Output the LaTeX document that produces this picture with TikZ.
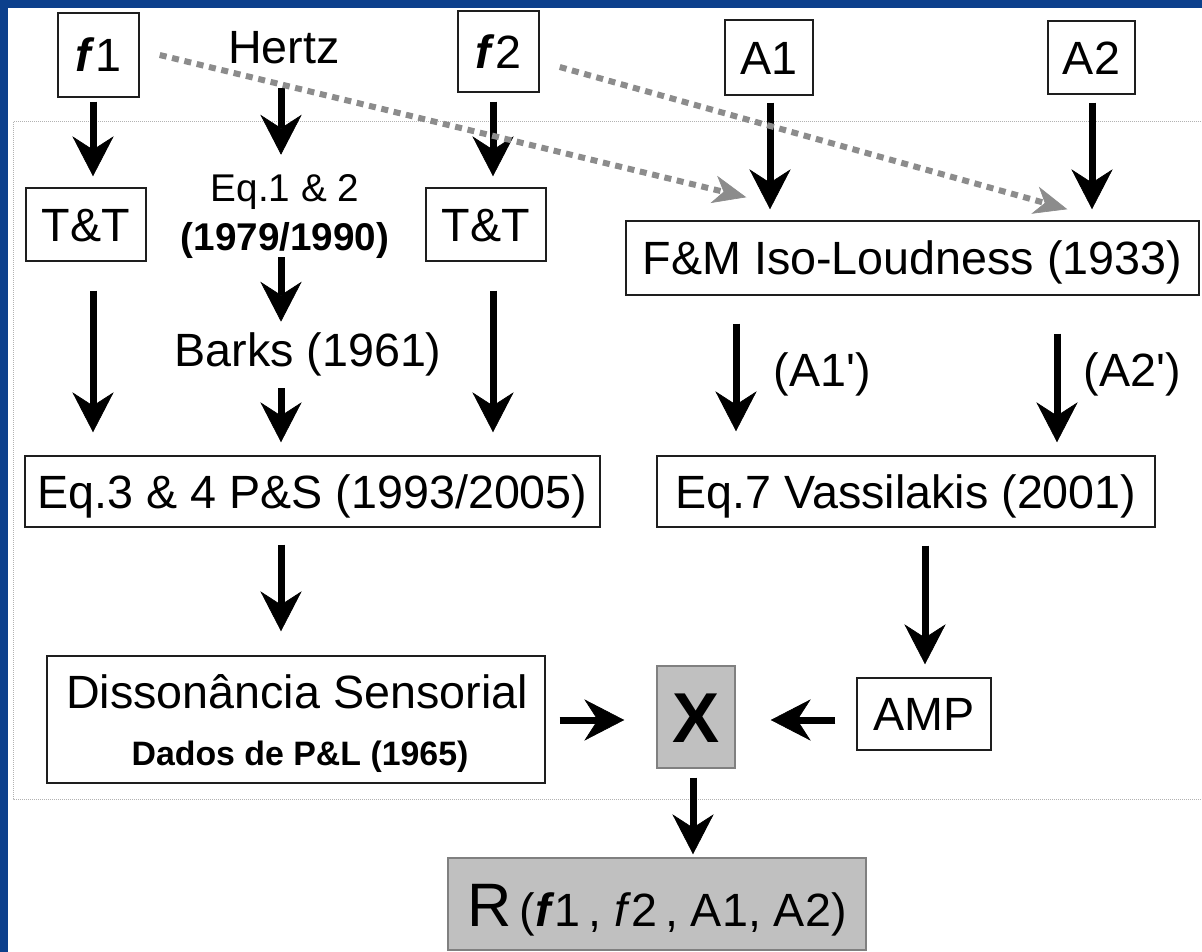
\documentclass[tikz,border=0pt]{standalone}
\usepackage{fontspec}
\setmainfont{Liberation Sans}
\usetikzlibrary{positioning, calc, arrows.meta}

\definecolor{slideblue}{RGB}{12,64,140}
\definecolor{boxline}{RGB}{30,30,30}
\definecolor{dashgray}{RGB}{140,140,140}
\definecolor{boxgray}{RGB}{192,192,192}

\tikzset{
  mainf/.style={font=\fontsize{35}{42}\selectfont, text height=30pt, text depth=5pt},
  box/.style={mainf, draw=boxline, line width=1.1pt, fill=white, inner sep=0pt},
  graybox/.style={draw=gray, line width=1.1pt, fill=boxgray, inner sep=0pt},
  txt/.style={mainf, inner sep=0pt},
  smalltxt/.style={font=\fontsize{29}{35}\selectfont, inner sep=0pt, text height=24.5pt, text depth=3.7pt},
  subtxt/.style={font=\fontsize{25.4}{30}\selectfont\bfseries, inner sep=0pt, text height=21.5pt, text depth=3.3pt},
  blk/.style={line width=5.25pt, -{Stealth[length=30pt, width=31pt, inset=10pt, line width=0.5pt]}},
  dsh/.style={draw=dashgray, line width=4.5pt, dash pattern=on 5.25pt off 4.25pt,
    -{Stealth[length=25pt, width=21pt, inset=7.5pt, line width=0.5pt]}},
  panel/.style={draw=gray!60, line width=0.75pt, dash pattern=on 0.75pt off 0.75pt}
}

\begin{document}
\begin{tikzpicture}[x=0.75pt,y=0.75pt,yscale=-1,xscale=1]
\useasboundingbox (0,0) rectangle (1202,952);

% slide background
\fill[slideblue] (0,0) rectangle (1202,952);
\fill[white] (8,8) rectangle (1202,952);
% dotted frame
\draw[panel] (13,122) rectangle (1210,799);

% top row
\node[box, minimum width=60.75pt, minimum height=63pt] (f1) at (98.5,55) {\textbf{\textit{f}}1};
\node[txt] (hertz) at (284,47) {Hertz};
\node[box, minimum width=60.75pt, minimum height=60.75pt] (f2) at (498.5,51.5) {\textbf{\textit{f}}2};
\node[box, minimum width=66pt, minimum height=56.25pt] (a1) at (769,57.5) {A1};
\node[box, minimum width=65.25pt, minimum height=54.75pt] (a2) at (1091.5,57.5) {A2};

% second row
\node[box, minimum width=90pt, minimum height=54.75pt] (tt1) at (86,224.5) {T\&T};
\node[smalltxt] (eq1) at (285,188) {Eq.1 \& 2};
\node[smalltxt] (eq1y) at (285,237) {\bfseries (1979/1990)};
\node[box, minimum width=90pt, minimum height=54.75pt] (tt2) at (486,224.5) {T\&T};
\node[box, minimum width=429.75pt, minimum height=55.5pt] (fm) at (912.5,258) {F\&M Iso-Loudness (1933)};

% third row
\node[txt] (barks) at (308,350) {Barks (1961)};
\node[txt] (a1p) at (822,370) {(A1\textquotesingle)};
\node[txt] (a2p) at (1132,370) {(A2\textquotesingle)};

\node[box, minimum width=431.25pt, minimum height=53.25pt] (eq3) at (312.5,491.5) {Eq.3 \& 4 P\&S (1993/2005)};
\node[box, minimum width=373.5pt, minimum height=53.25pt] (eq7) at (906,491.5) {Eq.7 Vassilakis (2001)};

% bottom
\node[box, minimum width=373.5pt, minimum height=95.25pt] (dis) at (296,719.5) {};
\node[txt] (dis1) at (297,692) {Dissonância Sensorial};
\node[subtxt] (dis2) at (300,753) {Dados de P\&L (1965)};
\node[graybox, minimum width=58.5pt, minimum height=76.5pt, font=\fontsize{53}{60}\selectfont\bfseries, text height=38pt, text depth=0pt] (x) at (696,717) {X};
\node[box, minimum width=100.5pt, minimum height=54pt] (amp) at (924,714) {AMP};
\node[graybox, minimum width=313.5pt, minimum height=69pt, text height=33pt, text depth=0pt] (r) at (657,904)
  {{\fontsize{46}{50}\selectfont R}\hspace{6pt}{\fontsize{35}{42}\selectfont (\textbf{\textit{f}}1\,, \textit{f}2\,, A1, A2)}};

% black arrows
\draw[blk] ($(f1.south)+(-5.5,4)$) -- ($(f1.south |- tt1.north)+(-5.5,-11)$);
\draw[blk] ($(hertz.south)+(-3,17.7)$) -- ($(hertz.south |- eq1.north)+(-3,-14.2)$);
\draw[blk] ($(f2.south)+(-5.5,9)$) -- ($(f2.south |- tt2.north)+(-5.5,-11)$);
\draw[blk] ($(a1.south)+(1,7)$) -- ($(a1.south |- fm.north)+(1,-11)$);
\draw[blk] ($(a2.south)+(0.5,8)$) -- ($(a2.south |- fm.north)+(0.5,-11)$);
\draw[blk] ($(eq1y.south)+(-4,1.2)$) -- ($(eq1y.south |- barks.north)+(-4,-4.7)$);
\draw[blk] ($(tt1.south)+(7,29)$) -- ($(tt1.south |- eq3.north)+(7,-23)$);
\draw[blk] ($(barks.south)+(-27,14.7)$) -- ($(barks.south |- eq3.north)+(-27,-13)$);
\draw[blk] ($(tt2.south)+(7,29)$) -- ($(tt2.south |- eq3.north)+(7,-23)$);
\draw[blk] ($(fm.south)+(-176.5,28)$) -- ($(fm.south |- eq7.north)+(-176.5,-24)$);
\draw[blk] ($(fm.south)+(144.5,38)$) -- ($(fm.south |- eq7.north)+(144.5,-13)$);
\draw[blk] ($(eq3.south)+(-31.5,17)$) -- ($(eq3.south |- dis.north)+(-31.5,-24)$);
\draw[blk] ($(eq7.south)+(19,18)$) -- ($(eq7.south |- amp.north)+(19,-13)$);
\draw[blk] ($(dis.east)+(14,0.5)$) -- ($(dis.east -| x.west)+(-32,0.5)$);
\draw[blk] ($(amp.west)+(-21,6)$) -- ($(amp.west -| x.east)+(35,6)$);
\draw[blk] ($(x.south)+(-3,9)$) -- ($(x.south |- r.north)+(-3,-3)$);

% gray dashed arrows
\draw[dsh] ($(f1.east)+(20,0)$) -- ($(fm.north west)+(121,-23)$);
\draw[dsh] ($(f2.east)+(20,15.5)$) -- ($(fm.north west)+(442,-11)$);
\end{tikzpicture}
\end{document}
